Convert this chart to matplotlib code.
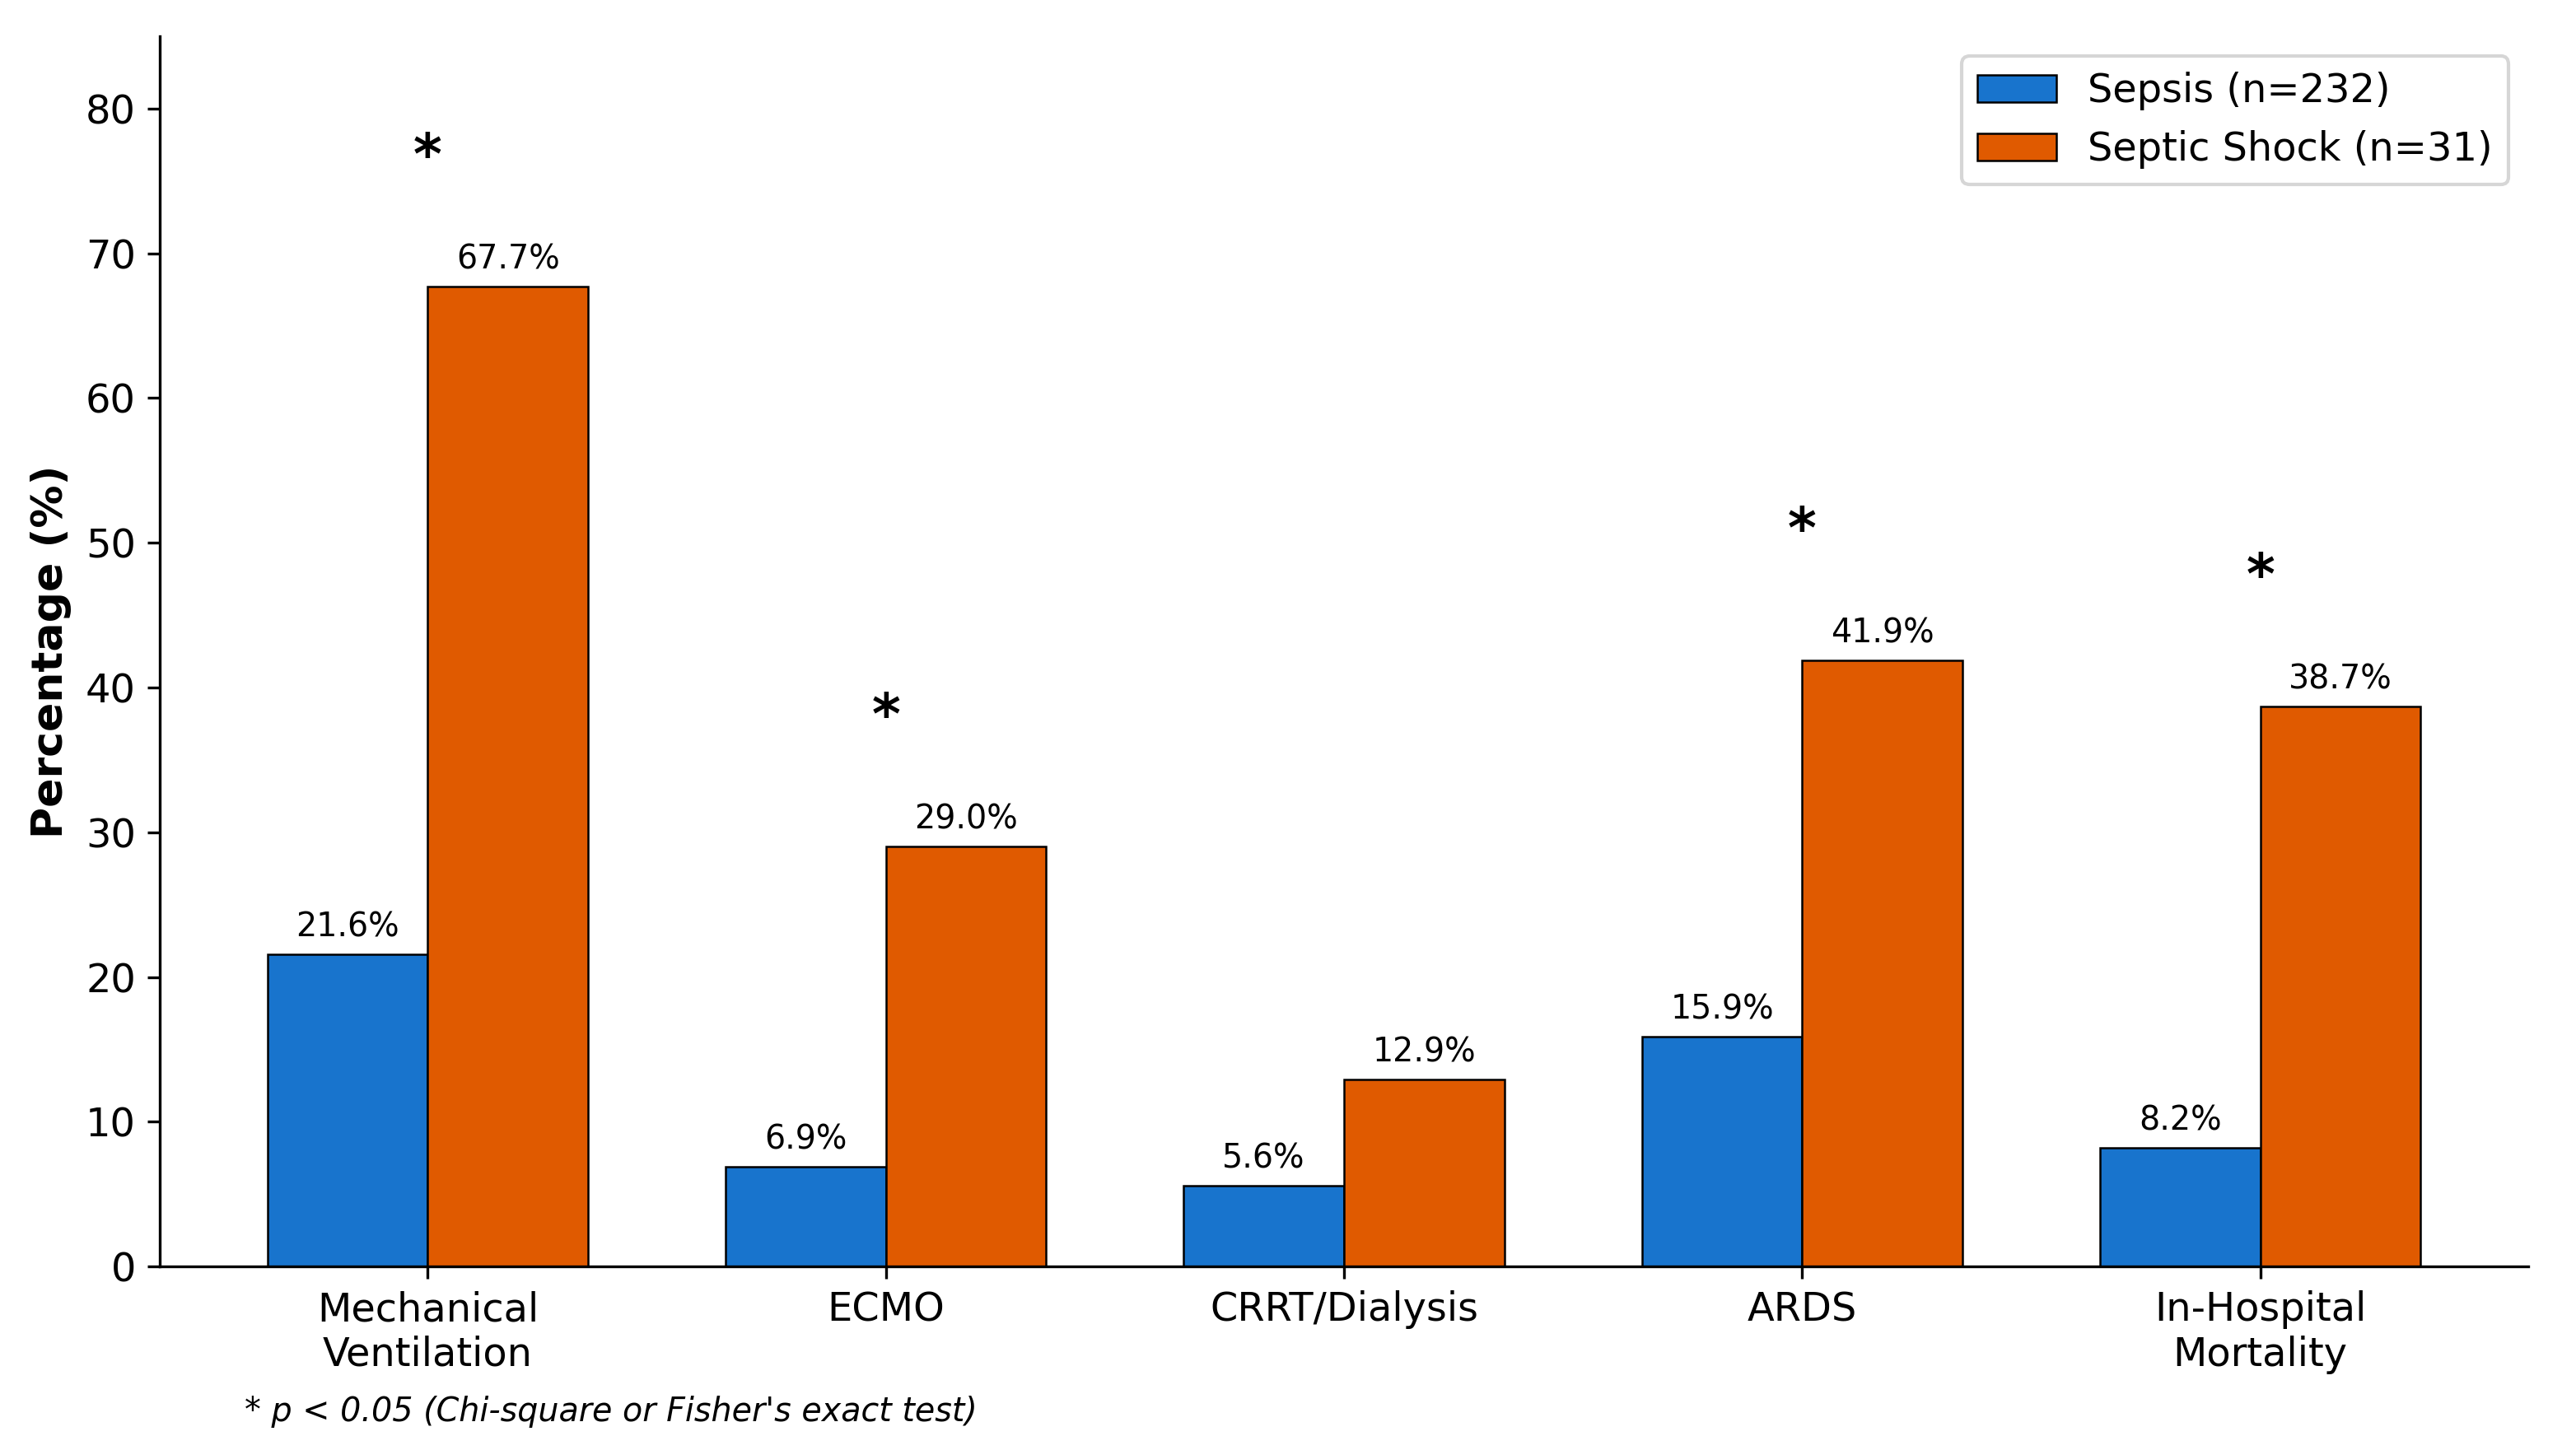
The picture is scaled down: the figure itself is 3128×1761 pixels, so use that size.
import matplotlib.pyplot as plt
import numpy as np

categories = ["Mechanical\nVentilation", "ECMO", "CRRT/Dialysis", "ARDS", "In-Hospital\nMortality"]
sepsis = [21.6, 6.9, 5.6, 15.9, 8.2]
septic_shock = [67.7, 29.0, 12.9, 41.9, 38.7]
significant = [True, True, False, True, True]

x = np.arange(len(categories))
width = 0.35

fig, ax = plt.subplots(figsize=(10.427, 5.87), dpi=300)
b1 = ax.bar(x - width / 2, sepsis, width, color="#1874cd", edgecolor="black",
            linewidth=0.6, label="Sepsis (n=232)")
b2 = ax.bar(x + width / 2, septic_shock, width, color="#e05a00", edgecolor="black",
            linewidth=0.6, label="Septic Shock (n=31)")

# value labels
for bars in (b1, b2):
    for bar in bars:
        h = bar.get_height()
        ax.annotate(f"{h:.1f}%", xy=(bar.get_x() + bar.get_width() / 2, h),
                    xytext=(0, 3), textcoords="offset points",
                    ha="center", va="bottom", fontsize=9.5)

# significance markers
for i, sig in enumerate(significant):
    if sig:
        top = max(sepsis[i], septic_shock[i])
        ax.text(x[i], top + 7, "*", ha="center", va="bottom",
                fontsize=16, fontweight="bold")

ax.set_xticks(x)
ax.set_xticklabels(categories, fontsize=11.5)
ax.tick_params(axis="y", labelsize=11.5)
ax.set_ylabel("Percentage (%)", fontsize=12.5, fontweight="bold")
ax.set_ylim(0, 85)
ax.spines["top"].set_visible(False)
ax.spines["right"].set_visible(False)
ax.legend(loc="upper right", fontsize=11.5)

fig.text(0.095, 0.02, "* p < 0.05 (Chi-square or Fisher's exact test)",
         fontsize=9.5, style="italic")

plt.subplots_adjust(left=0.062, right=0.9815, bottom=0.1265, top=0.975)
plt.savefig("out.png", dpi=300)
